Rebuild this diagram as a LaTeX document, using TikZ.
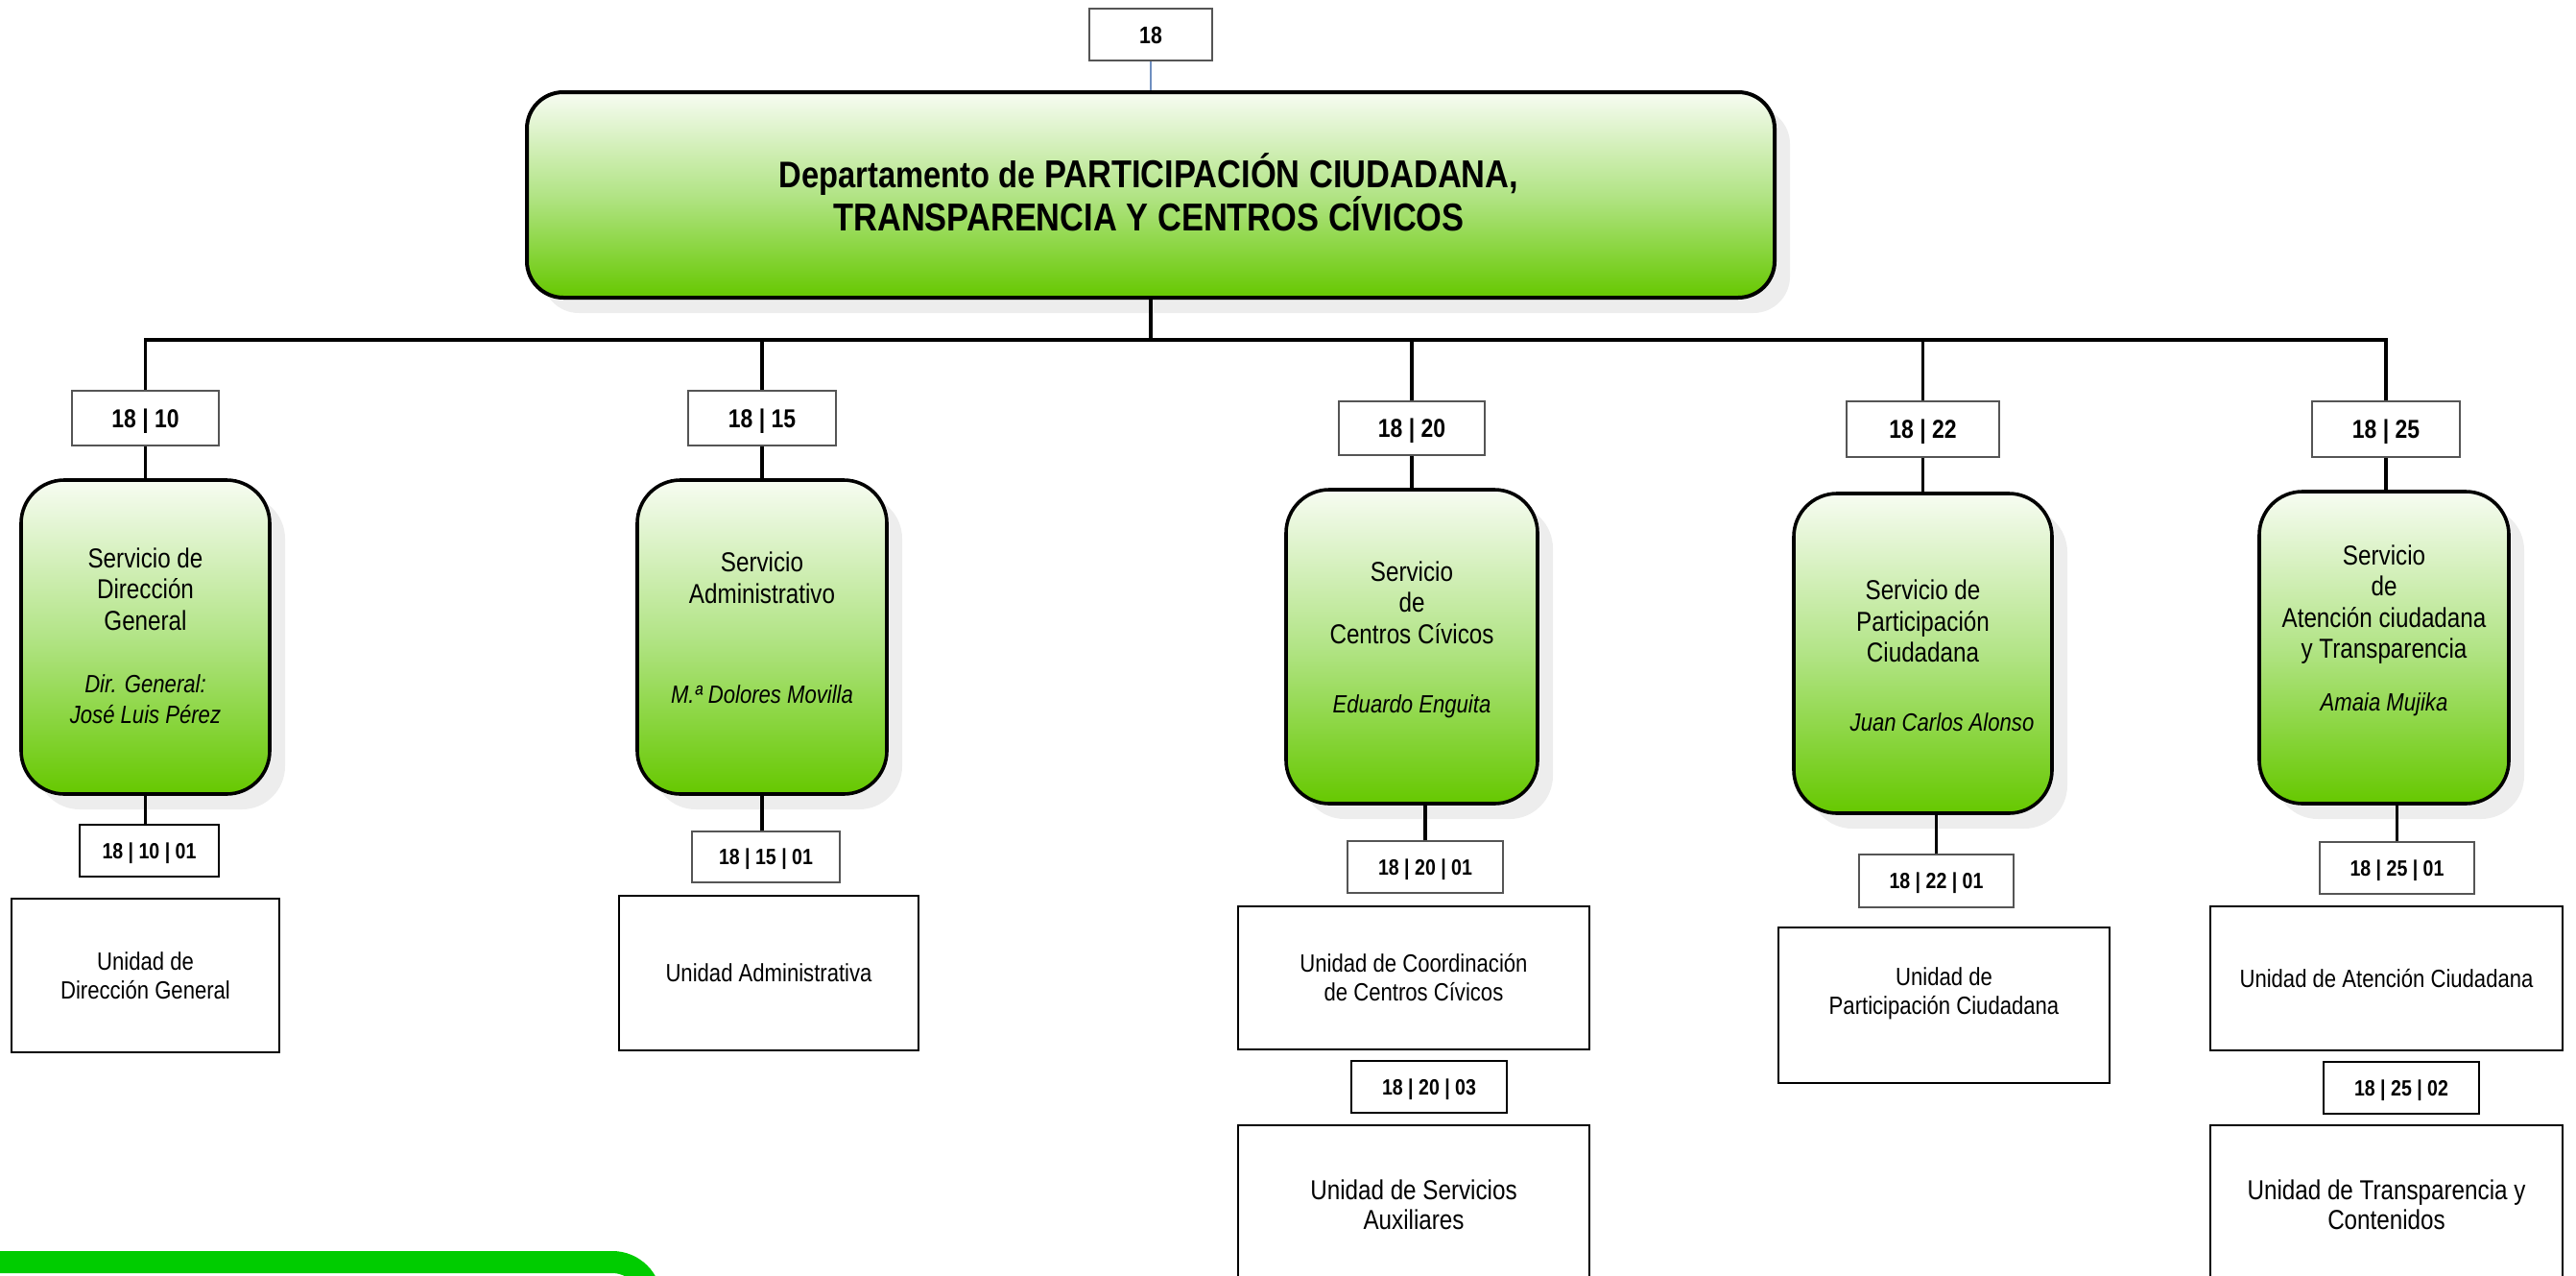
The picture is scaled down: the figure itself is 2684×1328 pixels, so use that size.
\documentclass[tikz,border=0pt]{standalone}
\usepackage{fontspec}
\setmainfont{Liberation Sans}[FakeStretch=0.85]
\usetikzlibrary{shadows}
\definecolor{gtop}{HTML}{F7FCF2}
\definecolor{gmid}{HTML}{B2E486}
\definecolor{gbot}{HTML}{66C800}
\definecolor{shad}{HTML}{EDEDED}
\definecolor{bandgreen}{HTML}{00CC00}
\definecolor{thinblue}{HTML}{6F8FC0}
\definecolor{codeline}{HTML}{555555}
\begin{document}
\begin{tikzpicture}[x=1pt,y=-1pt,
  svcbox/.style={draw=black, line width=3.6pt, rounded corners=45pt, inner sep=0pt,
    top color=gtop, bottom color=gbot, middle color=gmid,
    drop shadow={shadow xshift=16pt, shadow yshift=-16pt, fill=shad, opacity=1}},
  mainbox/.style={draw=black, line width=4pt, rounded corners=38pt, inner sep=0pt,
    top color=gtop, bottom color=gbot, middle color=gmid,
    drop shadow={shadow xshift=16pt, shadow yshift=-16pt, fill=shad, opacity=1}},
  codeone/.style={draw=codeline, line width=1.5pt, fill=white, inner sep=0pt,
    font=\bfseries\fontsize{27}{30}\selectfont, text height=19.4pt, text depth=0pt},
  codetwo/.style={draw=codeline, line width=1.5pt, fill=white, inner sep=0pt,
    font=\bfseries\fontsize{23}{26}\selectfont, text height=16.5pt, text depth=0pt},
  codedark/.style={codetwo, draw=black, line width=2.5pt},
  unitbox/.style={draw=black, line width=2.5pt, fill=white, inner sep=0pt, align=center,
    font=\fontsize{26}{30}\selectfont},
  unitbig/.style={unitbox, font=\fontsize{28.5}{31}\selectfont},
  svctext/.style={align=center, inner sep=0pt, font=\fontsize{28.5}{32.5}\selectfont},
  conn/.style={draw=black, line width=3.6pt},
  thinconn/.style={draw=thinblue, line width=1.3pt}
]
\useasboundingbox (0,0) rectangle (2684,1328);
\clip (0,0) rectangle (2684,1328);

% bottom-left green band
\draw[bandgreen, line width=23pt, rounded corners=40pt] (-40,1314.5) -- (678,1314.5) -- (678,1500);

% top
\node[codeone, draw=codeline, line width=1.3pt, font=\bfseries\fontsize{25}{28}\selectfont, text height=18pt,
  minimum width=128pt, minimum height=54pt] (n18) at (1199,36) {18};
\node[mainbox, minimum width=1300pt, minimum height=214pt] (main) at (1199,203) {};
\node[align=center, inner sep=0pt, font=\bfseries] (maint) at (1197,200)
  {{\fontsize{38.5}{48}\selectfont Departamento de }{\fontsize{40.5}{48}\selectfont PARTICIPACIÓN CIUDADANA,}\\
   {\fontsize{40.5}{48}\selectfont TRANSPARENCIA Y CENTROS CÍVICOS}};
\draw[thinconn] (n18.south) -- (main.north);

% level 1 codes
\node[codeone, minimum width=153pt, minimum height=57pt] (c10) at (151.5,435.5) {18 | 10};
\node[codeone, minimum width=154pt, minimum height=57pt] (c15) at (794,435.5) {18 | 15};
\node[codeone, minimum width=152pt, minimum height=56pt] (c20) at (1471,446) {18 | 20};
\node[codeone, minimum width=159pt, minimum height=58pt] (c22) at (2003.5,447) {18 | 22};
\node[codeone, minimum width=154pt, minimum height=58pt] (c25) at (2486,447) {18 | 25};

% services
\node[svcbox, minimum width=259pt, minimum height=327pt] (s10) at (151.5,663.5) {};
\node[svcbox, minimum width=260pt, minimum height=327pt] (s15) at (794,663.5) {};
\node[svcbox, minimum width=262pt, minimum height=327pt] (s20) at (1471,673.5) {};
\node[svcbox, minimum width=269pt, minimum height=333pt] (s22) at (2003.5,680.5) {};
\node[svcbox, minimum width=260pt, minimum height=325pt] (s25) at (2484,674.5) {};

\node[svctext] (s10t) at (151.5,662.5) {Servicio de\\Dirección\\General\\[32.5pt]
  {\fontsize{26}{32.5}\selectfont\itshape Dir. General:}\\{\fontsize{26}{32.5}\selectfont\itshape José Luis Pérez}};
\node[svctext] (s15t) at (794,654) {Servicio\\Administrativo\\[71.5pt]
  {\fontsize{26}{32.5}\selectfont\itshape M.ª Dolores Movilla}};
\node[svctext] (s20t) at (1471,666) {Servicio\\de\\Centros Cívicos\\[39.5pt]
  {\fontsize{26}{32.5}\selectfont\itshape Eduardo Enguita}};
\node[svctext] (s22t) at (2003.5,683) {Servicio de\\Participación\\Ciudadana\\[39.5pt]
  {\fontsize{26}{32.5}\selectfont\itshape\hspace*{40pt}Juan Carlos Alonso}};
\node[svctext] (s25t) at (2484,657) {Servicio\\de\\Atención ciudadana\\y Transparencia\\[22.5pt]
  {\fontsize{26}{32.5}\selectfont\itshape Amaia Mujika}};

% level 2 codes
\node[codedark, minimum width=145pt, minimum height=54pt] (c1001) at (155.5,886) {18 | 10 | 01};
\node[codetwo, minimum width=154pt, minimum height=53pt] (c1501) at (798,892.5) {18 | 15 | 01};
\node[codetwo, minimum width=162pt, minimum height=54pt] (c2001) at (1485,903) {18 | 20 | 01};
\node[codetwo, minimum width=161pt, minimum height=55pt] (c2201) at (2017.5,917.5) {18 | 22 | 01};
\node[codetwo, minimum width=161pt, minimum height=54pt] (c2501) at (2497.5,904) {18 | 25 | 01};
\node[codedark, minimum width=162pt, minimum height=54pt] (c2003) at (1489,1132) {18 | 20 | 03};
\node[codedark, minimum width=162pt, minimum height=54pt] (c2502) at (2502,1133) {18 | 25 | 02};

% units
\node[unitbox, minimum width=279pt, minimum height=160pt] (u1001) at (151.5,1016) {Unidad de\\Dirección General};
\node[unitbox, minimum width=312pt, minimum height=161pt] (u1501) at (801,1013.5) {Unidad Administrativa};
\node[unitbox, minimum width=366pt, minimum height=149pt] (u2001) at (1473,1018.5) {Unidad de Coordinación\\de Centros Cívicos};
\node[unitbox, minimum width=345pt, minimum height=162pt] (u2201) at (2025.5,1047) {};
\node[align=center, inner sep=0pt, font=\fontsize{26}{30}\selectfont] (u2201t) at (2025.5,1035) {Unidad de\\Participación Ciudadana};
\node[unitbox, minimum width=367pt, minimum height=150pt] (u2501) at (2486.5,1019) {Unidad de Atención Ciudadana};
\node[unitbig, minimum width=366pt, minimum height=166pt] (u2003) at (1473,1255) {Unidad de Servicios\\Auxiliares};
\node[unitbig, minimum width=367pt, minimum height=166pt] (u2502) at (2486.5,1255) {Unidad de Transparencia y\\Contenidos};

% connectors
\coordinate (bus) at (1199,354);
\draw[conn] (main.south) -- (bus);
\draw[conn, line cap=rect] (c10.north |- bus) -- (c25.north |- bus);
\foreach \c/\s in {c10/s10, c15/s15, c20/s20, c22/s22, c25/s25} {
  \draw[conn] (\c.north |- bus) -- (\c.north);
  \draw[conn] (\c.south) -- (\c.south |- \s.north);
}
\draw[conn] (c1001.north -| s10.south) -- (s10.south);
\draw[conn] (c1501.north -| s15.south) -- (s15.south);
\draw[conn] (c2001.north) -- (c2001.north |- s20.south);
\draw[conn] (c2201.north) -- (c2201.north |- s22.south);
\draw[conn] (c2501.north) -- (c2501.north |- s25.south);
\end{tikzpicture}
\end{document}
